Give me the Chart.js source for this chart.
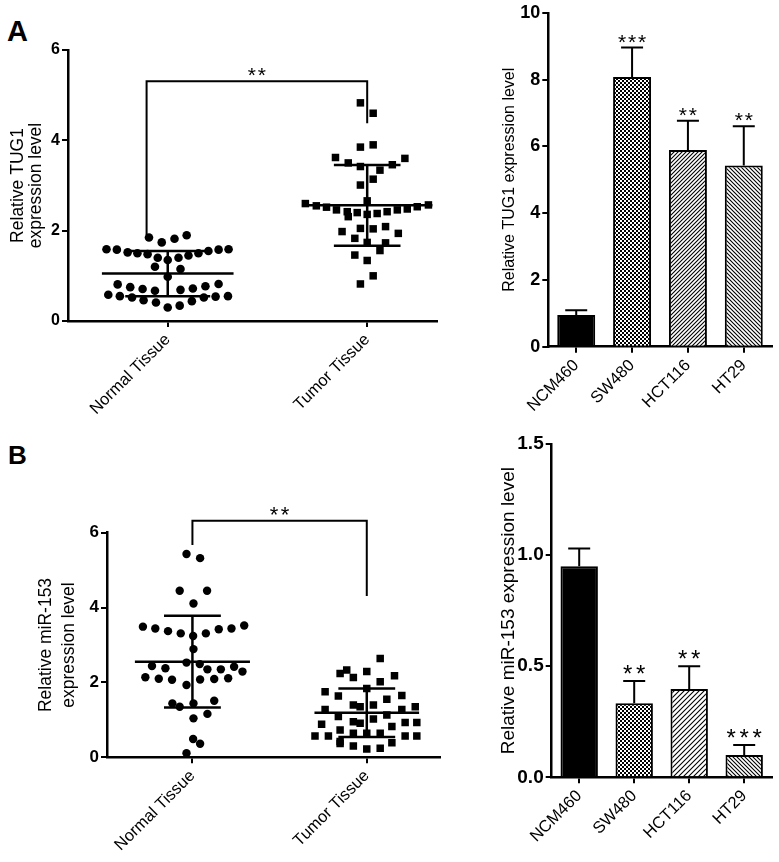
<!DOCTYPE html>
<html>
<head>
<meta charset="utf-8">
<script src="https://cdn.jsdelivr.net/npm/chart.js@4.4.0/dist/chart.umd.min.js"></script>
<style>
body { margin: 0; background: #fff; width: 779px; height: 862px; position: relative; overflow: hidden; font-family: "Liberation Sans", Arial, sans-serif; }
canvas { position: absolute; }
.letter { position: absolute; font-weight: bold; line-height: 1; color: #000; }
</style>
</head>
<body>
<div class="letter" style="left:7px;top:17px;font-size:29px">A</div>
<div class="letter" style="left:8px;top:442px;font-size:26px">B</div>
<canvas id="scatA" width="450" height="430" style="left:0;top:0"></canvas>
<canvas id="barA" width="329" height="430" style="left:450px;top:0"></canvas>
<canvas id="scatB" width="450" height="432" style="left:0;top:430px"></canvas>
<canvas id="barB" width="329" height="432" style="left:450px;top:430px"></canvas>
<script>
// ---- data ----
var groups = ["Normal Tissue", "Tumor Tissue"];
var cellLines = ["NCM460", "SW480", "HCT116", "HT29"];

// A, left: TUG1 in tissues (value + horizontal scatter offset)
var tug1Normal = [1.85, 1.74, 1.82, 1.90, 1.59, 1.58, 1.52, 1.50, 1.48, 1.40, 1.35, 1.40, 1.45, 1.50, 1.55, 1.58, 1.59,
  1.20, 1.15, 0.98, 0.81, 0.75, 0.71, 0.67, 0.69, 0.72, 0.77, 0.82,
  0.58, 0.55, 0.52, 0.46, 0.41, 0.30, 0.34, 0.44, 0.52, 0.54, 0.55];
var tug1NormalX = [-0.094, -0.030, 0.034, 0.095, -0.307, -0.255, -0.201, -0.152, -0.101, -0.050, 0, 0.054, 0.104, 0.154, 0.204, 0.255, 0.305,
  -0.064, 0.064, 0, -0.251, -0.188, -0.126, -0.064, 0.064, 0.126, 0.189, 0.255,
  -0.298, -0.240, -0.179, -0.121, -0.059, 0, 0.060, 0.121, 0.181, 0.240, 0.302];
var tug1Tumor = [4.83, 4.60, 3.85, 3.90, 3.62, 3.60, 3.50, 3.42, 3.34, 3.46, 3.01, 3.14, 2.66,
  2.60, 2.55, 2.52, 2.46, 2.42, 2.40, 2.36, 2.38, 2.42, 2.46, 2.48, 2.53, 2.57,
  2.31, 1.98, 2.05, 2.04, 2.09, 1.94, 1.83, 1.74, 1.73, 1.46, 1.56, 1.34, 1.00, 0.82];
var tug1TumorX = [-0.034, 0.030, -0.034, 0.030, -0.159, 0.189, -0.095, -0.034, 0.064, 0.126, -0.034, 0.030, 0,
  -0.310, -0.255, -0.204, -0.154, -0.100, -0.050, 0, 0.050, 0.100, 0.151, 0.201, 0.251, 0.307,
  -0.095, -0.126, -0.034, 0.030, 0.092, 0.156, -0.062, 0, 0.092, -0.062, 0.064, 0, 0.030, -0.034];
var tug1Mean = [1.05, 2.56];
var tug1SD = [0.50, 0.895];
var tug1BracketX = [0.894, 2];
var tug1BracketY = [1.90, 5.31, 4.38];

// A, right: TUG1 in cell lines
var tug1Cells = [0.95, 8.08, 5.89, 5.43];
var tug1CellsErr = [0.14, 0.88, 0.88, 1.17];
var tug1CellsStars = ["", "***", "**", "**"];

// B, left: miR-153 in tissues
var mirNormal = [5.43, 5.32, 4.45, 4.45, 4.11, 3.49, 3.44, 3.37, 3.31, 3.24, 3.31, 3.42, 3.44, 3.52,
  2.89, 2.53, 2.49, 2.44, 2.38, 2.35, 2.35, 2.42, 2.29,
  2.14, 2.10, 2.07, 1.93, 2.08, 2.09, 2.11, 1.44, 1.35, 1.44, 1.51, 1.04, 1.16, 0.49, 0.36, 0.11];
var mirNormalX = [-0.034, 0.044, -0.073, 0.084, 0.006, -0.284, -0.213, -0.140, -0.067, 0.004, 0.077, 0.151, 0.224, 0.297,
  0.006, -0.034, 0.042, -0.232, -0.155, 0.086, 0.163, 0.239, 0.287,
  -0.270, -0.193, -0.117, -0.034, 0.044, 0.125, 0.205, -0.115, -0.073, 0.006, 0.125, 0.006, 0.086, 0.004, 0.044, -0.034];
var mirTumor = [2.64, 2.24, 2.33, 2.13, 2.29, 2.02, 2.18, 1.75, 1.64, 1.84, 1.55, 1.65,
  1.28, 1.09, 1.40, 1.35, 1.40, 1.13, 1.28, 1.35,
  0.88, 0.73, 0.95, 0.91, 1.02, 0.82, 0.93, 0.93,
  0.57, 0.57, 0.42, 0.64, 0.64, 0.64, 0.39, 0.57, 0.57, 0.30, 0.22, 0.24, 0.37];
var mirTumorX = [0.077, -0.153, -0.115, -0.077, 0, 0.077, 0.159, -0.239, -0.163, 0, 0.115, 0.201,
  -0.239, -0.163, -0.077, -0.038, 0.038, 0.115, 0.201, 0.278,
  -0.259, -0.153, -0.077, -0.038, 0.038, 0.144, 0.220, 0.287,
  -0.297, -0.220, -0.153, -0.077, 0, 0.077, 0.144, 0.220, 0.287, -0.077, 0, 0.077, -0.153];
var mirMean = [2.555, 1.19];
var mirSD = [1.225, 0.645];
var mirBracketX = [1.0, 2];
var mirBracketY = [5.67, 6.32, 4.31];

// B, right: miR-153 in cell lines
var mirCells = [0.95, 0.333, 0.397, 0.10];
var mirCellsErr = [0.08, 0.10, 0.103, 0.045];
var mirCellsStars = ["", "**", "**", "***"];

// ---- drawing ----
Chart.defaults.font.family = '"Liberation Sans", Arial, sans-serif';
Chart.defaults.color = "#000";

function drawStars(ctx, text, cx, y, size, gap) {
    ctx.save();
    ctx.fillStyle = "#000";
    ctx.font = size + "px 'Liberation Sans', Arial, sans-serif";
    ctx.textAlign = "center";
    ctx.textBaseline = "alphabetic";
    for (var i = 0; i < text.length; i++) {
        ctx.fillText("*", cx + (i - (text.length - 1) / 2) * gap, y + size * 0.05);
    }
    ctx.restore();
}

// error bars + stars on bar charts
var errBarPlugin = {
    id: "errbars",
    afterDatasetsDraw: function (chart, args, opts) {
        var ctx = chart.ctx, xs = chart.scales.x, ys = chart.scales.y;
        var vals = chart.data.datasets[0].data;
        ctx.save();
        ctx.strokeStyle = "#000";
        ctx.lineWidth = 2;
        vals.forEach(function (v, i) {
            var x = xs.getPixelForValue(i);
            var y0 = ys.getPixelForValue(v);
            var y1 = ys.getPixelForValue(v + opts.err[i]);
            ctx.beginPath();
            ctx.moveTo(x, y0);
            ctx.lineTo(x, y1);
            ctx.moveTo(x - 11, y1);
            ctx.lineTo(x + 11, y1);
            ctx.stroke();
            if (opts.stars[i]) drawStars(ctx, opts.stars[i], x, y1, opts.starSize, opts.starGap);
        });
        ctx.restore();
    }
};

// stars over the bracket on scatter charts
var sigPlugin = {
    id: "sig",
    afterDatasetsDraw: function (chart, args, opts) {
        var xs = chart.scales.x, ys = chart.scales.y;
        var cx = (xs.getPixelForValue(opts.x[0]) + xs.getPixelForValue(opts.x[1])) / 2;
        drawStars(chart.ctx, opts.text, cx, ys.getPixelForValue(opts.y), opts.starSize, opts.starGap);
    }
};

function makePattern(ctx, kind, size, lw) {
    var c = document.createElement("canvas");
    c.width = size;
    c.height = size;
    var g = c.getContext("2d");
    g.fillStyle = "#fff";
    g.fillRect(0, 0, size, size);
    g.fillStyle = "#000";
    g.strokeStyle = "#000";
    g.lineWidth = lw;
    if (kind === "check") {
        var h = size / 2;
        g.fillRect(0, 0, h, h);
        g.fillRect(h, h, h, h);
    } else {
        g.beginPath();
        if (kind === "fwd") {
            g.moveTo(0, size); g.lineTo(size, 0);
            g.moveTo(-size, size); g.lineTo(size, -size);
            g.moveTo(0, 2 * size); g.lineTo(2 * size, 0);
        } else {
            g.moveTo(0, 0); g.lineTo(size, size);
            g.moveTo(-size, 0); g.lineTo(size, 2 * size);
            g.moveTo(0, -size); g.lineTo(2 * size, size);
        }
        g.stroke();
    }
    return ctx.createPattern(c, "repeat");
}

function axisGrid() {
    return { drawOnChartArea: false, drawTicks: true, tickLength: 6, lineWidth: 2, color: "#000", offset: false };
}

function yAxis(max, step, cfg) {
    return {
        min: 0, max: max,
        grid: axisGrid(),
        border: { display: true, width: 2.5, color: "#000" },
        ticks: {
            stepSize: step, padding: 2,
            font: { size: cfg.tickSize, weight: "bold" },
            callback: function (v) { return cfg.fmt ? v.toFixed(1) : v; }
        },
        title: {
            display: true, text: cfg.title,
            font: { size: cfg.titleSize, lineHeight: cfg.lineH },
            padding: { top: cfg.titlePad, bottom: 0 }
        },
        afterFit: function (s) { s.width = cfg.yw; }
    };
}

function xTicks() {
    return { autoSkip: false, minRotation: 45, maxRotation: 45, padding: 3, font: { size: 16.5 } };
}

function statLines(center, mean, sd, meanHalf, sdHalf) {
    var segs = [
        [[center - meanHalf, mean], [center + meanHalf, mean]],
        [[center - sdHalf, mean + sd], [center + sdHalf, mean + sd]],
        [[center - sdHalf, mean - sd], [center + sdHalf, mean - sd]],
        [[center, mean - sd], [center, mean + sd]]
    ];
    return segs.map(function (s) {
        return {
            data: s.map(function (p) { return { x: p[0], y: p[1] }; }),
            showLine: true, pointRadius: 0, borderColor: "#000", borderWidth: 2.5
        };
    });
}

function points(vals, offs, center, style, r) {
    return {
        data: vals.map(function (v, i) { return { x: center + offs[i], y: v }; }),
        pointStyle: style, pointRadius: r, pointBackgroundColor: "#000", pointBorderWidth: 0, showLine: false
    };
}

function bracket(bx, by) {
    return {
        data: [{ x: bx[0], y: by[0] }, { x: bx[0], y: by[1] }, { x: bx[1], y: by[1] }, { x: bx[1], y: by[2] }],
        showLine: true, pointRadius: 0, borderColor: "#000", borderWidth: 2, clip: false
    };
}

function scatterChart(id, cfg) {
    var datasets = [
        points(cfg.normal, cfg.normalX, 1, "circle", cfg.r[0]),
        points(cfg.tumor, cfg.tumorX, 2, "rect", cfg.r[1]),
        bracket(cfg.bx, cfg.by)
    ].concat(statLines(1, cfg.mean[0], cfg.sd[0], cfg.halves[0][0], cfg.halves[0][1]))
     .concat(statLines(2, cfg.mean[1], cfg.sd[1], cfg.halves[1][0], cfg.halves[1][1]));
    return new Chart(document.getElementById(id), {
        type: "scatter",
        data: { datasets: datasets },
        options: {
            responsive: false, animation: false,
            layout: { padding: cfg.pad },
            plugins: {
                legend: { display: false }, tooltip: { enabled: false },
                sig: { x: cfg.bx, y: cfg.by[1], text: "**", starSize: cfg.starSize, starGap: cfg.starGap }
            },
            scales: {
                x: {
                    type: "linear", min: cfg.xr[0], max: cfg.xr[1],
                    grid: axisGrid(),
                    border: { display: true, width: 2.5, color: "#000" },
                    ticks: Object.assign(xTicks(), { callback: function (v) { return groups[v - 1]; } }),
                    afterBuildTicks: function (s) { s.ticks = [{ value: 1 }, { value: 2 }]; },
                    afterFit: function (s) { s.height = cfg.xh; }
                },
                y: yAxis(6, 2, cfg)
            }
        },
        plugins: [sigPlugin]
    });
}

function barChart(id, cfg) {
    var ctx = document.getElementById(id).getContext("2d");
    var fills = ["#000", makePattern(ctx, "check", cfg.check, 0),
        makePattern(ctx, "fwd", cfg.hatch[0], 1.1), makePattern(ctx, "back", cfg.hatch[1], 1.1)];
    return new Chart(ctx, {
        type: "bar",
        data: {
            labels: cellLines,
            datasets: [{
                data: cfg.values, backgroundColor: fills, borderColor: "#000", borderWidth: 2,
                barPercentage: 0.68, categoryPercentage: 1
            }]
        },
        options: {
            responsive: false, animation: false,
            layout: { padding: cfg.pad },
            plugins: {
                legend: { display: false }, tooltip: { enabled: false },
                errbars: { err: cfg.err, stars: cfg.stars, starSize: cfg.starSize, starGap: cfg.starGap }
            },
            scales: {
                x: {
                    grid: axisGrid(),
                    border: { display: true, width: 2.5, color: "#000" },
                    ticks: xTicks(),
                    afterFit: function (s) { s.height = cfg.xh; }
                },
                y: yAxis(cfg.max, cfg.step, cfg)
            }
        },
        plugins: [errBarPlugin]
    });
}

scatterChart("scatA", {
    normal: tug1Normal, normalX: tug1NormalX, tumor: tug1Tumor, tumorX: tug1TumorX,
    mean: tug1Mean, sd: tug1SD, bx: tug1BracketX, by: tug1BracketY,
    halves: [[0.33, 0.213], [0.327, 0.167]], r: [4.3, 5.3],
    xr: [0.5, 2.35], pad: { left: 0, right: 13, top: 50, bottom: 0 }, xh: 109, yw: 68,
    title: ["Relative TUG1", "expression level"], titleSize: 17.5, titlePad: 9, lineH: 1.03,
    tickSize: 16, starSize: 21, starGap: 10
});

scatterChart("scatB", {
    normal: mirNormal, normalX: mirNormalX, tumor: mirTumor, tumorX: mirTumorX,
    mean: mirMean, sd: mirSD, bx: mirBracketX, by: mirBracketY,
    halves: [[0.33, 0.163], [0.30, 0.163]], r: [4.2, 5.3],
    xr: [0.51, 2.42], pad: { left: 0, right: 10, top: 102.7, bottom: 0 }, xh: 104.7, yw: 107,
    title: ["Relative miR-153", "expression level"], titleSize: 17.5, titlePad: 34.5, lineH: 1.31,
    tickSize: 17, starSize: 22, starGap: 11
});

barChart("barA", {
    values: tug1Cells, err: tug1CellsErr, stars: tug1CellsStars,
    max: 10, step: 2, fmt: false, check: 4, hatch: [4, 4],
    pad: { left: 0, right: 7.3, top: 11.7, bottom: 0 }, xh: 83.3, yw: 98.3,
    title: "Relative TUG1 expression level", titleSize: 16, titlePad: 50.4, lineH: 1.2,
    tickSize: 18, starSize: 21, starGap: 10
});

barChart("barB", {
    values: mirCells, err: mirCellsErr, stars: mirCellsStars,
    max: 1.5, step: 0.5, fmt: true, check: 4, hatch: [5, 4],
    pad: { left: 0, right: 7.3, top: 14, bottom: 0 }, xh: 84.7, yw: 101.7,
    title: "Relative miR-153 expression level", titleSize: 19, titlePad: 47.6, lineH: 1.2,
    tickSize: 19, starSize: 24, starGap: 13
});
</script>
</body>
</html>
